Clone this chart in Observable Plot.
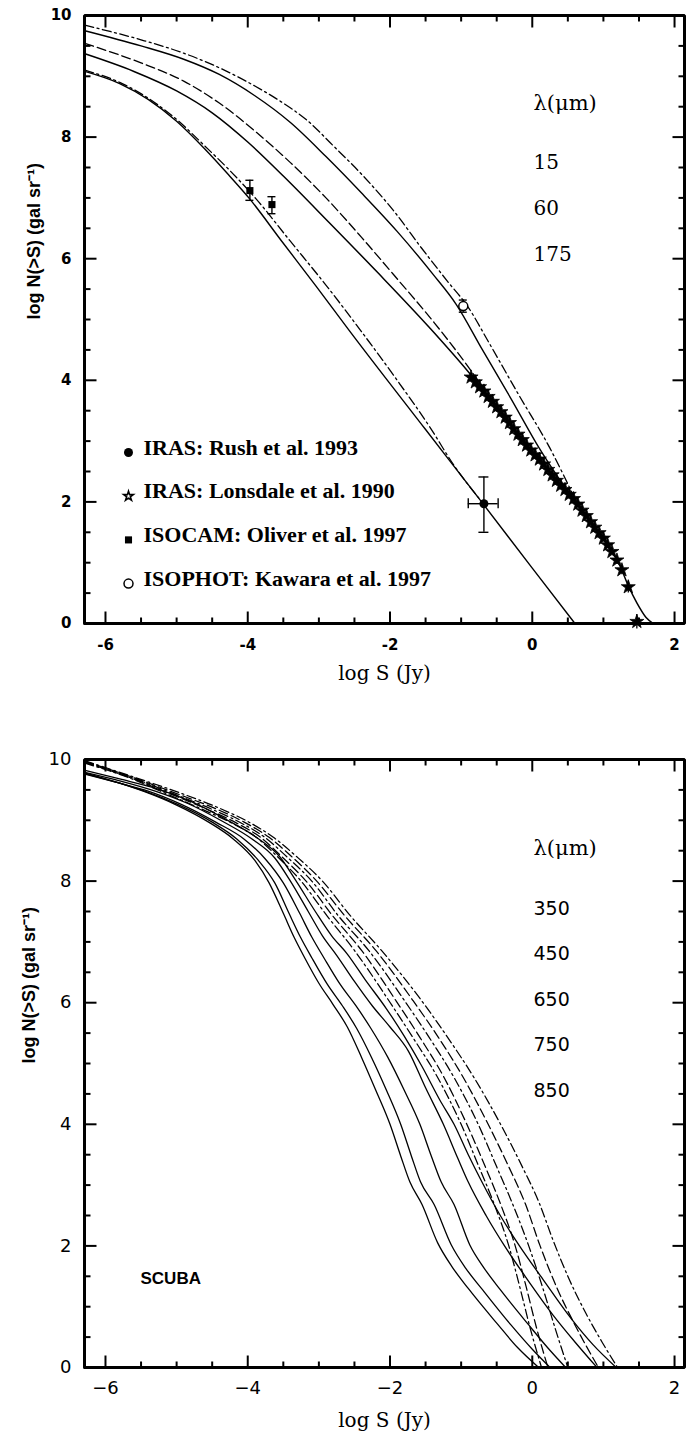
<!DOCTYPE html>
<html><head><meta charset="utf-8">
<script src="https://cdn.jsdelivr.net/npm/d3@7"></script>
<script src="https://cdn.jsdelivr.net/npm/@observablehq/plot@0.6"></script>
<style>
html,body{margin:0;padding:0;background:#fff;}
#chart{width:687px;}
#chart svg{display:block;}
</style></head><body><div id="chart"></div>
<script>
// ---------- DATA ----------
const xTickValues = [-6, -4, -2, 0, 2];
const yTickValues = [0, 2, 4, 6, 8, 10];
const topLambdas = ["15", "60", "175"];
const bottomLambdas = ["350", "450", "650", "750", "850"];
const lambdaTitle = "λ(μm)";
const xTitle = "log S (Jy)";
const yTitle = "log N(>S) (gal sr⁻¹)";
const scubaLabel = "SCUBA";
const legendLabels = ["IRAS: Rush et al. 1993", "IRAS: Lonsdale et al. 1990", "ISOCAM: Oliver et al. 1997", "ISOPHOT: Kawara et al. 1997"];

// top panel model curves [log S, log N]
const t15Solid = [[-6.29,9.08],[-5.8,8.88],[-5.4,8.62],[-5.0,8.26],[-4.6,7.8],[-4.27,7.38],[-3.97,6.98],[-3.53,6.30],[-3.04,5.55],[-2.58,4.83],[-1.5,3.19],[-0.68,1.95],[0.0,0.91],[0.6,0]];
const t15Dash  = [[-6.29,9.10],[-5.8,8.9],[-5.4,8.64],[-5.0,8.29],[-4.6,7.85],[-4.21,7.40],[-3.88,6.98],[-3.41,6.30],[-2.89,5.55],[-2.42,4.83],[-1.93,4.05],[-1.44,3.23],[-1.10,2.60],[-0.68,1.96]];
const t60Solid = [[-6.29,9.37],[-5.6,9.08],[-5.0,8.76],[-4.5,8.4],[-4.0,7.92],[-3.5,7.36],[-2.86,6.6],[-2.18,5.78],[-1.44,4.86],[-0.9,4.14],[-0.685,3.83],[-0.40,3.42],[-0.17,3.06],[0.09,2.71],[0.32,2.38],[0.56,2.08],[0.79,1.72],[1.03,1.34],[1.24,0.93],[1.35,0.62],[1.47,0.34],[1.60,0.10],[1.70,0]];
const t60Dash  = [[-6.29,9.54],[-5.5,9.22],[-4.9,8.92],[-4.4,8.56],[-3.9,8.1],[-3.4,7.58],[-2.9,7.0],[-2.4,6.35],[-1.9,5.67],[-1.38,4.95],[-0.95,4.3],[-0.685,3.87]];
const t175Solid = [[-6.29,9.75],[-5.5,9.5],[-4.9,9.28],[-4.4,9.03],[-3.9,8.68],[-3.4,8.24],[-2.9,7.68],[-2.4,7.08],[-1.9,6.45],[-1.4,5.75],[-1.07,5.25],[-0.7,4.5],[-0.3,3.7],[0.1,2.88],[0.6,2.0]];
const t175Dash  = [[-6.29,9.84],[-5.5,9.6],[-4.9,9.38],[-4.4,9.14],[-3.9,8.84],[-3.53,8.58],[-3.16,8.27],[-2.80,7.86],[-2.36,7.34],[-1.93,6.76],[-1.56,6.18],[-1.2,5.64],[-0.9,5.2],[-0.6,4.6],[-0.2,3.78],[0.25,2.88],[0.62,2.0]];

// observations
const lonsdale60 = [[-0.86,4.05,0],[-0.80,3.97,0],[-0.74,3.89,0],[-0.68,3.82,0],[-0.62,3.73,0],[-0.56,3.65,0],[-0.50,3.56,0],[-0.44,3.48,0],[-0.38,3.39,0],[-0.32,3.30,0],[-0.26,3.20,0],[-0.20,3.11,0],[-0.14,3.02,0],[-0.08,2.93,0],[-0.02,2.85,0],[0.04,2.77,0],[0.10,2.70,0],[0.16,2.62,0],[0.22,2.53,0],[0.28,2.44,0],[0.34,2.35,0],[0.40,2.27,0],[0.46,2.20,0],[0.52,2.12,0],[0.58,2.05,0],[0.64,1.96,0],[0.70,1.86,0],[0.76,1.77,0],[0.82,1.67,0],[0.88,1.58,0],[0.94,1.49,0],[1.00,1.40,0],[1.06,1.29,0],[1.12,1.18,0.05],[1.19,1.04,0.07],[1.26,0.88,0.08],[1.35,0.60,0.10],[1.47,0.03,0.12]];
const rush12 = [{x:-0.68, y:1.97, yLo:1.50, yHi:2.41, xLo:-0.90, xHi:-0.48}];
const oliver15 = [{x:-3.97, y:7.12, yLo:6.96, yHi:7.29}, {x:-3.66, y:6.89, yLo:6.74, yHi:7.02}];
const kawara175 = [{x:-0.97, y:5.22, yLo:5.12, yHi:5.32}];

// bottom panel (SCUBA) model curves
const b850Solid = [[-6.29,9.78],[-5.8,9.61],[-5.45,9.47],[-5.0,9.25],[-4.55,8.97],[-4.2,8.69],[-3.9,8.34],[-3.7,7.97],[-3.5,7.47],[-3.35,7.08],[-3.2,6.74],[-3.0,6.32],[-2.8,5.97],[-2.6,5.6],[-2.4,5.1],[-2.2,4.56],[-2.0,4.0],[-1.85,3.48],[-1.72,3.05],[-1.55,2.68],[-1.33,2.05],[-1.13,1.66],[-0.9,1.3],[-0.5,0.73],[-0.2,0.32],[0.09,0]];
const b750Solid = [[-6.29,9.77],[-5.8,9.61],[-5.45,9.48],[-5.0,9.27],[-4.5,8.97],[-4.15,8.69],[-3.85,8.34],[-3.62,7.97],[-3.42,7.47],[-3.26,7.08],[-3.1,6.74],[-2.88,6.3],[-2.67,5.95],[-2.47,5.58],[-2.26,5.1],[-2.05,4.56],[-1.85,4.0],[-1.7,3.48],[-1.57,3.05],[-1.38,2.68],[-1.14,2.02],[-0.94,1.64],[-0.7,1.28],[-0.3,0.7],[0.0,0.3],[0.25,0]];
const b650Solid = [[-6.29,9.76],[-5.8,9.61],[-5.4,9.48],[-4.95,9.27],[-4.45,8.97],[-4.05,8.69],[-3.75,8.36],[-3.5,7.97],[-3.27,7.47],[-3.1,7.08],[-2.93,6.74],[-2.7,6.3],[-2.48,5.95],[-2.27,5.58],[-2.03,5.1],[-1.8,4.56],[-1.58,4.0],[-1.42,3.48],[-1.28,3.05],[-1.1,2.68],[-0.88,2.02],[-0.68,1.64],[-0.45,1.28],[-0.05,0.7],[0.22,0.32],[0.47,0]];
const b450Solid = [[-6.29,9.79],[-5.8,9.65],[-5.3,9.48],[-4.85,9.28],[-4.35,8.98],[-3.95,8.7],[-3.62,8.38],[-3.4,8.0],[-3.15,7.5],[-2.95,7.1],[-2.75,6.78],[-2.5,6.35],[-2.25,5.95],[-2.0,5.6],[-1.74,5.2],[-1.5,4.6],[-1.25,4.0],[-1.05,3.45],[-0.9,3.05],[-0.65,2.5],[-0.39,2.0],[-0.1,1.5],[0.3,0.85],[0.6,0.42],[0.91,0]];
const b350Solid = [[-6.29,9.82],[-5.8,9.68],[-5.25,9.51],[-4.8,9.31],[-4.3,9.01],[-3.88,8.72],[-3.55,8.4],[-3.33,8.02],[-3.05,7.5],[-2.82,7.1],[-2.6,6.8],[-2.35,6.38],[-2.05,5.9],[-1.8,5.45],[-1.55,4.95],[-1.3,4.4],[-1.1,4.0],[-0.9,3.5],[-0.72,3.08],[-0.45,2.5],[-0.18,2.0],[0.15,1.45],[0.55,0.8],[0.85,0.38],[1.18,0]];
const b350Dash = [[-6.29,9.98],[-5.65,9.73],[-4.95,9.45],[-4.4,9.2],[-4.0,8.98],[-3.64,8.72],[-3.31,8.4],[-2.95,8.0],[-2.55,7.42],[-2.12,6.86],[-1.56,6.04],[-1.19,5.43],[-0.82,4.77],[-0.45,4.01],[-0.14,3.3],[0.1,2.7],[0.29,2.1],[0.5,1.5],[0.75,0.9],[0.98,0.42],[1.2,0]];
const b450Dash = [[-6.29,9.97],[-5.65,9.72],[-5.0,9.44],[-4.45,9.19],[-4.05,8.97],[-3.7,8.72],[-3.38,8.4],[-3.03,8.0],[-2.63,7.42],[-2.2,6.86],[-1.68,6.04],[-1.32,5.43],[-0.97,4.77],[-0.62,4.0],[-0.33,3.3],[-0.1,2.7],[0.11,2.0],[0.35,1.3],[0.6,0.7],[0.93,0]];
const b650Dash = [[-6.29,9.96],[-5.65,9.71],[-5.05,9.44],[-4.5,9.18],[-4.1,8.96],[-3.76,8.72],[-3.45,8.4],[-3.1,8.0],[-2.72,7.42],[-2.3,6.86],[-1.8,6.04],[-1.45,5.43],[-1.1,4.77],[-0.76,4.0],[-0.5,3.3],[-0.28,2.7],[-0.05,2.0],[0.15,1.3],[0.32,0.65],[0.5,0]];
const b750Dash = [[-6.29,9.95],[-5.65,9.7],[-5.1,9.44],[-4.55,9.17],[-4.15,8.95],[-3.82,8.72],[-3.52,8.4],[-3.18,8.0],[-2.8,7.42],[-2.4,6.86],[-1.92,6.04],[-1.58,5.43],[-1.24,4.77],[-0.92,4.0],[-0.66,3.3],[-0.45,2.7],[-0.24,2.0],[-0.08,1.3],[0.06,0.65],[0.22,0]];
const b850Dash = [[-6.29,9.94],[-5.65,9.69],[-5.15,9.44],[-4.6,9.16],[-4.2,8.94],[-3.88,8.72],[-3.58,8.4],[-3.25,8.0],[-2.88,7.42],[-2.5,6.86],[-2.02,6.04],[-1.68,5.43],[-1.33,4.77],[-1.0,4.0],[-0.75,3.3],[-0.54,2.7],[-0.33,2.0],[-0.17,1.3],[-0.03,0.65],[0.13,0]];

// ---------- DRAWING ----------
const W = 687, ML = 84, MR = 3;
const X_DOMAIN = [-6.295, 2.14];
const DASH = "9,4", DASHDOT = "9,3.5,2,3.5";

function curve(pts, dash, sw) {
  return Plot.line(pts, {x: d => d[0], y: d => d[1], curve: "monotone-x", stroke: "black",
    strokeWidth: sw, strokeDasharray: dash || null});
}

function frameAndTicks(innerW, innerH) {
  const isMajor = v => Math.abs(Math.round(v) - v) < 1e-9 && Math.round(v) % 2 === 0;
  const pyu = 10 / innerH;
  const pxu = (X_DOMAIN[1] - X_DOMAIN[0]) / innerW;
  const x0 = X_DOMAIN[0], x1 = X_DOMAIN[1];
  const L = 12, S = 6;
  const segs = [];
  d3.range(-6, 2.001, 0.5).forEach(v => {
    const len = isMajor(v) ? L : S;
    segs.push({ax: v, bx: v, ay: 0, by: len * pyu});
    segs.push({ax: v, bx: v, ay: 10 - len * pyu, by: 10});
  });
  d3.range(0.5, 9.51, 0.5).forEach(v => {
    const len = isMajor(v) ? L : S;
    segs.push({ax: x0, bx: x0 + len * pxu, ay: v, by: v});
    segs.push({ax: x1 - len * pxu, bx: x1, ay: v, by: v});
  });
  const framePts = [{fx: x0, fy: 0}, {fx: x1, fy: 0}, {fx: x1, fy: 10}, {fx: x0, fy: 10}, {fx: x0, fy: 0}];
  return [
    Plot.line(framePts, {x: "fx", y: "fy", stroke: "black", strokeWidth: 3, strokeLinejoin: "miter"}),
    Plot.link(segs, {x1: "ax", y1: "ay", x2: "bx", y2: "by", stroke: "black", strokeWidth: 2})
  ];
}

function labelMarks(opts) {
  const font = {fontFamily: opts.font, fontSize: opts.fontSize, fontWeight: opts.fontWeight, fill: "black"};
  return [
    Plot.axisX({ticks: xTickValues, anchor: "bottom", tickSize: 0, tickPadding: opts.xPad, tickFormat: opts.fmt, label: null, ...font}),
    Plot.axisY({ticks: yTickValues, anchor: "left", tickSize: 0, tickPadding: 13, tickFormat: opts.fmt, label: null, ...font}),
    Plot.text([xTitle], {text: d => d, frameAnchor: "bottom", dy: opts.xTitleDy, lineAnchor: "middle", fontFamily: "DejaVu Serif", fontSize: 20}),
    Plot.text([yTitle], {text: d => d, frameAnchor: "left", rotate: -90, dx: opts.yTitleDx, lineAnchor: "middle",
      fontFamily: "Liberation Sans", fontWeight: "bold", fontSize: 18, ariaLabel: "ytitle"})
  ];
}

function errBars(data, capPx) {
  return [
    Plot.ruleX(data, {x: "x", y1: "yLo", y2: "yHi", strokeWidth: 1.4}),
    Plot.ruleY(data, {y: "yLo", x1: "x", x2: "x", insetLeft: -capPx, insetRight: -capPx, strokeWidth: 1.4}),
    Plot.ruleY(data, {y: "yHi", x1: "x", x2: "x", insetLeft: -capPx, insetRight: -capPx, strokeWidth: 1.4})
  ];
}

// ----- top panel -----
const topH = 700, topMT = 15, topMB = 77;
const hyphenFmt = d => (d < 0 ? "-" + Math.abs(d) : String(d));
const topInnerH = topH - topMT - topMB, innerW = W - ML - MR;

const legendMarks = [];
legendLabels.forEach((lab, i) => {
  const dyText = 432 + i * 43.7, dyMark = dyText + 5;
  legendMarks.push(Plot.text([lab], {text: d => d, frameAnchor: "top-left", dx: 59, dy: dyText, textAnchor: "start",
    lineAnchor: "middle", fontFamily: "Liberation Serif", fontWeight: "bold", fontSize: 22}));
  const common = {frameAnchor: "top-left", dx: 44, dy: dyMark};
  if (i === 0) legendMarks.push(Plot.dot([0], {...common, r: 4.5, fill: "black"}));
  if (i === 1) legendMarks.push(Plot.dot([0], {...common, r: 3, symbol: "star", fill: "white", stroke: "black", strokeWidth: 1.6}));
  if (i === 2) legendMarks.push(Plot.dot([0], {...common, r: 4, symbol: "square", fill: "black"}));
  if (i === 3) legendMarks.push(Plot.dot([0], {...common, r: 4.5, fill: "white", stroke: "black", strokeWidth: 1.5}));
});

const topLambdaMarks = [
  Plot.text([lambdaTitle], {text: d => d, frameAnchor: "top-left", dx: 449, dy: 88, textAnchor: "start", lineAnchor: "middle", fontFamily: "DejaVu Serif", fontSize: 21}),
  ...topLambdas.map((l, i) => Plot.text([l], {text: d => d, frameAnchor: "top-left", dx: 449, dy: 147 + i * 46, textAnchor: "start", lineAnchor: "middle", fontFamily: "DejaVu Serif", fontSize: 20}))
];

const topPlot = Plot.plot({
  width: W, height: topH, marginLeft: ML, marginRight: MR, marginTop: topMT, marginBottom: topMB,
  x: {domain: X_DOMAIN}, y: {domain: [0, 10]},
  marks: [
    ...frameAndTicks(innerW, topInnerH),
    curve(t15Solid, null, 1.4), curve(t15Dash, DASHDOT, 1.3),
    curve(t60Solid, null, 1.5), curve(t60Dash, DASH, 1.3),
    curve(t175Solid, null, 1.4), curve(t175Dash, DASHDOT, 1.3),
    Plot.ruleX(lonsdale60.filter(d => d[2] > 0), {x: d => d[0], y1: d => d[1] - d[2], y2: d => d[1] + d[2], strokeWidth: 1.3}),
    Plot.dot(lonsdale60, {x: d => d[0], y: d => d[1], symbol: "star", r: 4.4, fill: "black", stroke: "black", strokeWidth: 0.8}),
    ...errBars(oliver15, 4),
    Plot.dot(oliver15, {x: "x", y: "y", symbol: "square", r: 4, fill: "black"}),
    ...errBars(rush12, 5),
    Plot.ruleY(rush12, {y: "y", x1: "xLo", x2: "xHi", strokeWidth: 1.4}),
    Plot.ruleX(rush12, {x: "xLo", y1: "y", y2: "y", insetTop: -5, insetBottom: -5, strokeWidth: 1.4}),
    Plot.ruleX(rush12, {x: "xHi", y1: "y", y2: "y", insetTop: -5, insetBottom: -5, strokeWidth: 1.4}),
    Plot.dot(rush12, {x: "x", y: "y", r: 4.5, fill: "black"}),
    ...errBars(kawara175, 4),
    Plot.dot(kawara175, {x: "x", y: "y", r: 4.5, fill: "white", stroke: "black", strokeWidth: 1.5}),
    ...legendMarks,
    ...topLambdaMarks,
    ...labelMarks({font: "DejaVu Sans", fontSize: 15, fontWeight: "bold", fmt: hyphenFmt, xPad: 16, xTitleDy: 50, yTitleDx: -50})
  ]
});

// ----- bottom panel -----
const botH = 735, botMT = 59, botMB = 68;
const botInnerH = botH - botMT - botMB;
const minusFmt = d => (d < 0 ? "\u2212" + Math.abs(d) : String(d));

const botLambdaMarks = [
  Plot.text([lambdaTitle], {text: d => d, frameAnchor: "top-left", dx: 449, dy: 89, textAnchor: "start", lineAnchor: "middle", fontFamily: "DejaVu Serif", fontSize: 21}),
  ...bottomLambdas.map((l, i) => Plot.text([l], {text: d => d, frameAnchor: "top-left", dx: 449, dy: 149 + i * 45.5, textAnchor: "start", lineAnchor: "middle", fontFamily: "DejaVu Sans", fontSize: 19})),
  Plot.text([scubaLabel], {text: d => d, frameAnchor: "top-left", dx: 56, dy: 519, textAnchor: "start", lineAnchor: "middle", fontFamily: "Liberation Sans", fontWeight: "bold", fontSize: 17})
];

const botPlot = Plot.plot({
  width: W, height: botH, marginLeft: ML, marginRight: MR, marginTop: botMT, marginBottom: botMB,
  x: {domain: X_DOMAIN}, y: {domain: [0, 10]},
  marks: [
    ...frameAndTicks(innerW, botInnerH),
    curve(b850Solid, null, 1.3), curve(b750Solid, null, 1.3), curve(b650Solid, null, 1.3),
    curve(b450Solid, null, 1.3), curve(b350Solid, null, 1.3),
    curve(b850Dash, DASHDOT, 1.25), curve(b750Dash, DASH, 1.25), curve(b650Dash, DASHDOT, 1.25),
    curve(b450Dash, DASH, 1.25), curve(b350Dash, DASHDOT, 1.25),
    ...botLambdaMarks,
    ...labelMarks({font: "DejaVu Sans", fontSize: 18, fontWeight: "normal", fmt: minusFmt, xPad: 14, xTitleDy: 53, yTitleDx: -55})
  ]
});

const host = document.getElementById("chart");
host.appendChild(topPlot);
host.appendChild(botPlot);
d3.selectAll('g[aria-label="ytitle"] text').style("letter-spacing", "1.2px").style("word-spacing", "5px");
</script></body></html>
